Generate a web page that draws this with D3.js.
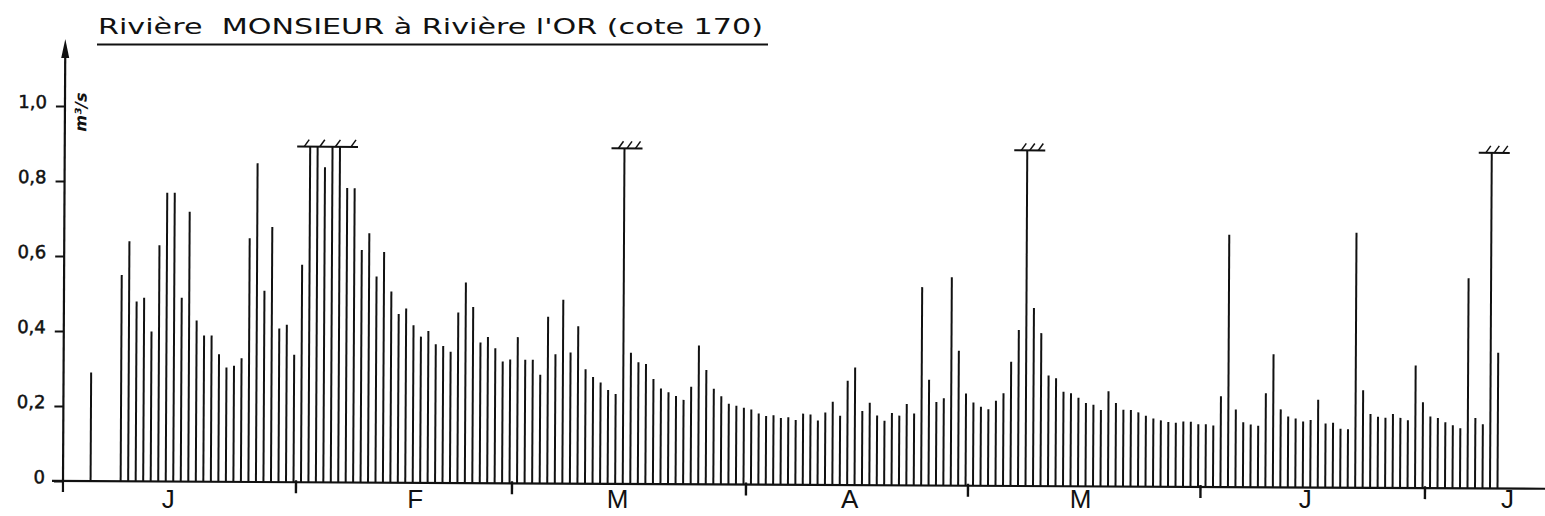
<!DOCTYPE html>
<html><head><meta charset="utf-8">
<script src="https://cdn.jsdelivr.net/npm/d3@7"></script>
<style>html,body{margin:0;padding:0;background:#fff;} svg{display:block}</style>
</head><body>
<svg id="c" width="1545" height="516"></svg>
<script>
// ---------- data ----------
const title = "Rivière  MONSIEUR à Rivière l'OR (cote 170)";
const unitLabel = "m³/s";
const firstDay = "1980-01-04";          // leap year (Feb has 29 daily bars)
// daily discharge (m3/s), null = no record
const discharge = [
  0.29, null, null, null,
  0.55, 0.64, 0.48, 0.49, 0.40, 0.63, 0.77, 0.77, 0.49, 0.72, 0.43, 0.39,
  0.39, 0.34, 0.305, 0.31, 0.33, 0.65, 0.85, 0.51, 0.68, 0.41, 0.42, 0.34,
  // February
  0.58, 0.9, 0.9, 0.84, 0.9, 0.9, 0.785, 0.785, 0.62, 0.665, 0.55, 0.615,
  0.51, 0.45, 0.465, 0.42, 0.39, 0.405, 0.37, 0.365, 0.35, 0.455, 0.535, 0.47,
  0.375, 0.39, 0.36, 0.325, 0.33,
  // March
  0.39, 0.33, 0.33, 0.29, 0.445, 0.345, 0.49, 0.35, 0.42, 0.305, 0.285, 0.27,
  0.25, 0.24, 0.9, 0.35, 0.325, 0.32, 0.28, 0.255, 0.245, 0.235, 0.225, 0.26,
  0.37, 0.305, 0.255, 0.235, 0.215, 0.21, 0.205,
  // April
  0.2, 0.19, 0.183, 0.185, 0.178, 0.18, 0.173, 0.19, 0.188, 0.172, 0.193, 0.222,
  0.185, 0.278, 0.314, 0.198, 0.22, 0.186, 0.172, 0.193, 0.186, 0.217, 0.192, 0.529,
  0.282, 0.223, 0.233, 0.556, 0.36, 0.246,
  // May
  0.222, 0.211, 0.204, 0.227, 0.247, 0.331, 0.416, 0.9, 0.475, 0.408, 0.295, 0.288,
  0.252, 0.248, 0.236, 0.222, 0.218, 0.204, 0.254, 0.223, 0.205, 0.204, 0.198, 0.189,
  0.182, 0.177, 0.173, 0.171, 0.174, 0.174, 0.167,
  // June
  0.167, 0.164, 0.242, 0.673, 0.207, 0.173, 0.167, 0.164, 0.251, 0.355, 0.208, 0.189,
  0.184, 0.176, 0.18, 0.234, 0.171, 0.173, 0.157, 0.156, 0.68, 0.26, 0.197, 0.19,
  0.187, 0.197, 0.187, 0.181, 0.327, 0.229,
  // July
  0.191, 0.187, 0.176, 0.168, 0.16, 0.56, 0.188, 0.171, 0.9, 0.362
];
// days whose discharge exceeded the drawn scale (bar capped, hatched)
const offScaleDays = ["1980-02-02", "1980-02-03", "1980-02-05", "1980-02-06",
                      "1980-03-15", "1980-05-08", "1980-07-09"];
const capLevel = 0.895;
const yTicks = [0, 0.2, 0.4, 0.6, 0.8, 1.0];
const yTickLabels = ["0", "0,2", "0,4", "0,6", "0,8", "1,0"];
const monthStarts = ["1980-01-01", "1980-02-01", "1980-03-01", "1980-04-01",
                     "1980-05-01", "1980-06-01", "1980-07-01", "1980-08-01"];
const monthLetters = ["J", "F", "M", "A", "M", "J", "J"];
const monthLabelDays = ["1980-01-15", "1980-02-17", "1980-03-15", "1980-04-15",
                        "1980-05-16", "1980-06-15", "1980-07-12"];

// ---------- layout ----------
const P = d3.utcParse("%Y-%m-%d");
const DAY = 864e5;
const y0px = 481, x0px = 63;
const x = d3.scaleUtc()
  .domain(monthStarts.map(P))
  .range([63, 296, 512, 746, 968, 1200.5, 1425, 1425 + 31 * 7.5]);
const y = d3.scaleLinear().domain([0, 1.1]).range([y0px, y0px - 1.1 * 375]);

const start = P(firstDay);
const data = discharge.map((v, i) => ({ date: new Date(start.getTime() + i * DAY), v }))
  .filter(d => d.v != null);
const offSet = new Set(offScaleDays);
const fmt = d3.utcFormat("%Y-%m-%d");
data.forEach(d => { d.off = offSet.has(fmt(d.date)); });
const bx = d => x(new Date(d.getTime() + 0.67 * DAY));

const svg = d3.select("#c");
const font = "'DejaVu Sans', sans-serif";

// title
svg.append("text")
  .attr("x", 98).attr("y", 34)
  .attr("font-family", font).attr("font-size", 22)
  .attr("textLength", 665).attr("lengthAdjust", "spacingAndGlyphs")
  .style("white-space", "pre")
  .attr("fill", "#111")
  .text(title);
svg.append("line").attr("x1", 97).attr("x2", 768).attr("y1", 44.5).attr("y2", 44.5)
  .attr("stroke", "#111").attr("stroke-width", 2);

// month letters (kept level, below the axis)
svg.selectAll("text.mlab").data(monthLetters).join("text")
  .attr("class", "mlab")
  .attr("x", (d, i) => x(P(monthLabelDays[i])))
  .attr("y", 508)
  .attr("text-anchor", "middle")
  .attr("font-family", "'Liberation Sans', sans-serif").attr("font-size", 26).attr("fill", "#111")
  .text(d => d);

// plot group slightly rotated like the scanned drawing
const g = svg.append("g").attr("transform", `rotate(0.3, ${x0px}, ${y0px})`);

// y axis via d3
const yAxis = d3.axisLeft(y).tickValues(yTicks)
  .tickFormat((d, i) => yTickLabels[i]).tickSize(9).tickPadding(9);
const ya = g.append("g").attr("transform", `translate(${x0px},0)`).call(yAxis);
ya.select(".domain").remove();
ya.selectAll(".tick line").attr("stroke", "#111").attr("stroke-width", 2);
ya.selectAll(".tick text").attr("font-family", font).attr("font-size", 18)
  .attr("fill", "#111").attr("stroke", "#111").attr("stroke-width", 0.5)
  .attr("dy", "0.1em");

g.append("line").attr("x1", x0px).attr("x2", x0px).attr("y1", y0px + 11).attr("y2", 52)
  .attr("stroke", "#111").attr("stroke-width", 2.2);
g.append("path").attr("d", `M${x0px},39 L${x0px - 4},58 L${x0px + 4},58 Z`).attr("fill", "#111");

// unit label
g.append("text")
  .attr("transform", `translate(79,112) rotate(-90)`)
  .attr("text-anchor", "middle").attr("dominant-baseline", "central")
  .attr("font-family", font).attr("font-size", 16).attr("font-style", "italic")
  .attr("font-weight", "bold").attr("fill", "#111")
  .text(unitLabel);

// x axis
g.append("line").attr("x1", 52).attr("x2", 1560).attr("y1", y0px).attr("y2", y0px)
  .attr("stroke", "#111").attr("stroke-width", 2.2);
g.selectAll("line.mtick").data(monthStarts.slice(1, 7).map(P)).join("line")
  .attr("class", "mtick")
  .attr("x1", d => x(d)).attr("x2", d => x(d))
  .attr("y1", y0px - 2).attr("y2", y0px + 11)
  .attr("stroke", "#111").attr("stroke-width", 2.4);

// daily bars
g.selectAll("line.bar").data(data).join("line")
  .attr("class", "bar")
  .attr("x1", d => bx(d.date)).attr("x2", d => bx(d.date))
  .attr("y1", y(0)).attr("y2", d => y(d.off ? capLevel : d.v))
  .attr("stroke", "#111").attr("stroke-width", 2);

// off-scale caps: group consecutive days
const offs = data.filter(d => d.off);
const groups = [];
offs.forEach(d => {
  const last = groups.length ? groups[groups.length - 1] : null;
  if (last && (d.date - last[last.length - 1].date) <= 2 * DAY) last.push(d);
  else groups.push([d]);
});
groups.forEach(gr => {
  const l = bx(gr[0].date) - 13, r = bx(gr[gr.length - 1].date) + 18;
  const cy = y(capLevel);
  g.append("line").attr("x1", l).attr("x2", r).attr("y1", cy).attr("y2", cy)
    .attr("stroke", "#111").attr("stroke-width", 2);
  const n = Math.max(3, gr.length);
  const hs = d3.range(n).map(k => l + 7 + k * ((r - l - 14) / (n - 1 || 1)));
  hs.forEach(hx => {
    g.append("path").attr("d", `M${hx},${cy} L${hx + 5},${cy - 7}`)
      .attr("stroke", "#111").attr("stroke-width", 1.5).attr("fill", "none");
  });
});
</script>
</body></html>
